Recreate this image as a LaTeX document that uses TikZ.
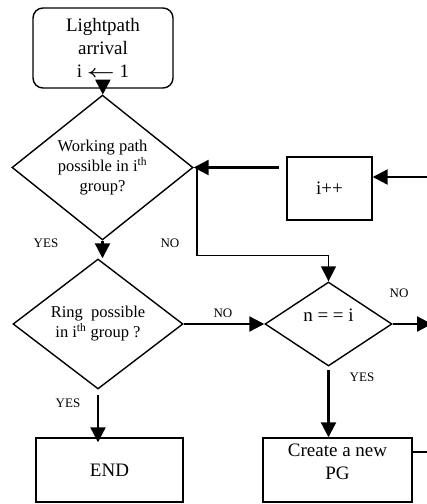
\documentclass[tikz,border=0pt]{standalone}
\usepackage{fontspec}
\usepackage{amsmath}
\setmainfont{Liberation Serif}
\usetikzlibrary{arrows.meta, shapes.geometric, positioning, calc}

\begin{document}
\begin{tikzpicture}[x=1pt, y=-1pt,
    box/.style={draw, line width=1.4pt, align=center, inner sep=0pt, font=\fontsize{19}{23}\selectfont},
    decision/.style={draw, diamond, aspect=1, line width=1.4pt, align=center, inner sep=0pt, font=\fontsize{16.5}{20}\selectfont},
    flow/.style={line width=2.2pt, -{Triangle[length=15pt, width=15pt]}},
    tag/.style={font=\fontsize{13}{15}\selectfont}]
  \useasboundingbox (0,0) rectangle (427,504);
  \clip (0,0) rectangle (427,504);

  % boxes
  \node[box, rounded corners=10pt, minimum width=140, minimum height=80] (start) at (103,48) {Lightpath\\arrival\\i \scalebox{1.4}[1]{$\boldsymbol{\leftarrow}$} 1};
  \node[decision, minimum width=181, minimum height=129] (work) at (102.5,167.5) {Working path\\possible in i\textsuperscript{th}\\group?};
  \node[box, minimum width=85, minimum height=63] (inc) at (329.5,188.5) {i++};
  \node[decision, minimum width=170, minimum height=130] (ring) at (98,324) {Ring\ \ possible\\in i\textsuperscript{th} group ?};
  \node[decision, minimum width=127, minimum height=84,
        label={[yshift=9pt, font=\fontsize{19}{23}\selectfont]center:n = = i}] (neq) at (328.5,324) {};
  \node[box, minimum width=147, minimum height=64] (end) at (109.5,470) {END};
  \node[box, minimum width=149, minimum height=64,
        label={[yshift=8pt, align=center, font=\fontsize{19}{23}\selectfont]center:Create a new\\PG}] (pg) at (337.5,470) {};

  % loose ends past the right border
  \coordinate (incin) at (440,177);
  \coordinate (nout) at (432,324);
  \coordinate (pgout) at (440,452);

  % connectors
  \draw[flow] (start) -- (work);
  \draw[flow] (work.south) -- (work.south |- ring.north);
  \draw[flow] ([yshift=-5pt]ring.south) -- ([yshift=-5pt]ring.south |- end.north);
  \draw[flow] ([xshift=-7pt]inc.west |- work.east) -- (work.east);
  \draw[flow] (incin) -- (incin -| inc.east);
  \draw[line width=1.6pt, -{Triangle[length=15pt, width=15pt]}] (work.east) -- ++(3,0) |- ($(neq.north)+(0,-26)$) -- (neq.north);
  \draw[flow] (ring.east) -- (neq.west);
  \draw[flow] (neq.east) -- (nout);
  \draw[flow] ([yshift=-3pt]neq.south) -- (neq.south |- pg.north);
  \draw[line width=2.2pt] ([yshift=18pt]pg.east) -- (pgout);

  % yes / no tags
  \node[tag] (y1) at (46,243) {YES};
  \node[tag] (n1) at (170,243) {NO};
  \node[tag] (n2) at (223,313) {NO};
  \node[tag] (n3) at (399,293) {NO};
  \node[tag] (y2) at (362,377) {YES};
  \node[tag] (y3) at (68,403) {YES};
\end{tikzpicture}
\end{document}
